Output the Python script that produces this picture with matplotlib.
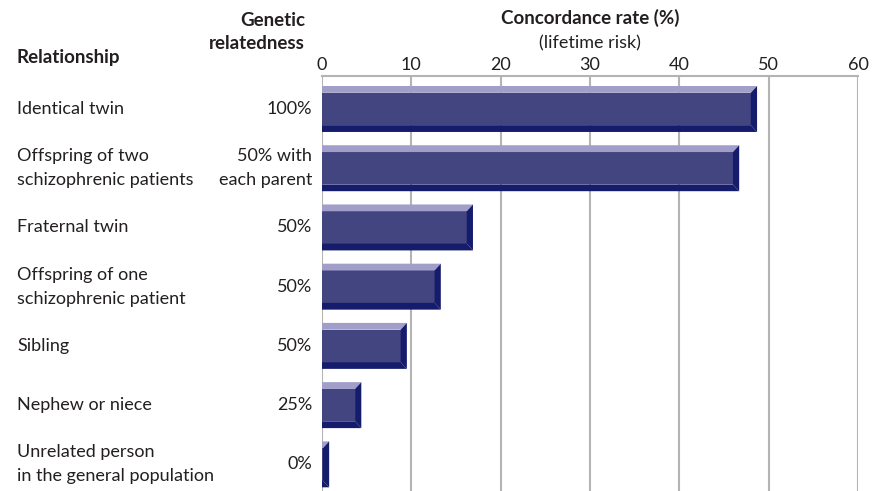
import matplotlib
matplotlib.use('Agg')
import matplotlib.pyplot as plt
from matplotlib.patches import Polygon
from matplotlib.transforms import blended_transform_factory

plt.rcParams['font.family'] = ['Lato', 'DejaVu Sans']

# data
relationships = ['Identical twin',
                 'Offspring of two\nschizophrenic patients',
                 'Fraternal twin',
                 'Offspring of one\nschizophrenic patient',
                 'Sibling',
                 'Nephew or niece',
                 'Unrelated person\nin the general population']
relatedness = ['100%', '50% with\neach parent', '50%', '50%', '50%', '25%', '0%']
concordance = [48.7, 46.7, 16.9, 13.3, 9.5, 4.4, 0.8]
xticks = [0, 10, 20, 30, 40, 50, 60]

txt = '#231f20'
face = '#434580'
light = '#a19fca'
dark = '#151c6c'
grid = '#b4b4b4'

fig = plt.figure(figsize=(8.77, 4.91), dpi=100)
ax = fig.add_axes([322/877, 0, (858-322)/877, 1 - 76/491])

ax.set_xlim(0, 60)
ax.set_ylim(6.45, -0.557)

h = 0.776          # bar thickness (rows)
bx = 0.7           # bevel width in x data units
by = 0.115         # bevel height in row units

for i, v in enumerate(concordance):
    top = i - h/2
    bot = i + h/2
    b = min(bx, v * 0.9)
    # main face
    ax.add_patch(Polygon([(0, top+by), (v-b, top+by), (v-b, bot-by), (0, bot-by)],
                         closed=True, facecolor=face, edgecolor='none', zorder=3))
    # top bevel
    ax.add_patch(Polygon([(0, top), (v, top), (v-b, top+by), (0, top+by)],
                         closed=True, facecolor=light, edgecolor='none', zorder=3))
    # bottom bevel
    ax.add_patch(Polygon([(0, bot), (v, bot), (v-b, bot-by), (0, bot-by)],
                         closed=True, facecolor=dark, edgecolor='none', zorder=3))
    # right bevel
    ax.add_patch(Polygon([(v, top), (v, bot), (v-b, bot-by), (v-b, top+by)],
                         closed=True, facecolor=dark, edgecolor='none', zorder=3))

ax.set_xticks(xticks)
ax.xaxis.tick_top()
ax.tick_params(axis='x', length=0, pad=2, labelsize=13, labelcolor=txt)
ax.set_yticks([])
ax.grid(axis='x', color=grid, linewidth=1.5, zorder=0)
for s in ['bottom', 'left', 'right']:
    ax.spines[s].set_visible(False)
ax.spines['top'].set_color(grid)
ax.spines['top'].set_linewidth(1.5)

tr = blended_transform_factory(fig.transFigure, ax.transData)
for i in range(len(relationships)):
    fig.text(17/877, i, relationships[i], transform=tr, ha='left', va='center',
             fontsize=13, color=txt, linespacing=1.6)
    fig.text(312/877, i, relatedness[i], transform=tr, ha='right', va='center',
             fontsize=13, color=txt, linespacing=1.6)

fig.text(17/877, 1 - 58/491, 'Relationship', ha='left', va='center',
         fontsize=13.5, fontweight='bold', color=txt)
fig.text(305/877, 1 - 32/491, 'Genetic\nrelatedness', ha='right', va='center',
         fontsize=13.5, fontweight='bold', color=txt, linespacing=1.45)
fig.text(590/877, 1 - 18/491, 'Concordance rate (%)', ha='center', va='center',
         fontsize=13.5, fontweight='bold', color=txt)
fig.text(590/877, 1 - 43/491, '(lifetime risk)', ha='center', va='center',
         fontsize=13, color=txt)

fig.savefig('out.png', dpi=100)
